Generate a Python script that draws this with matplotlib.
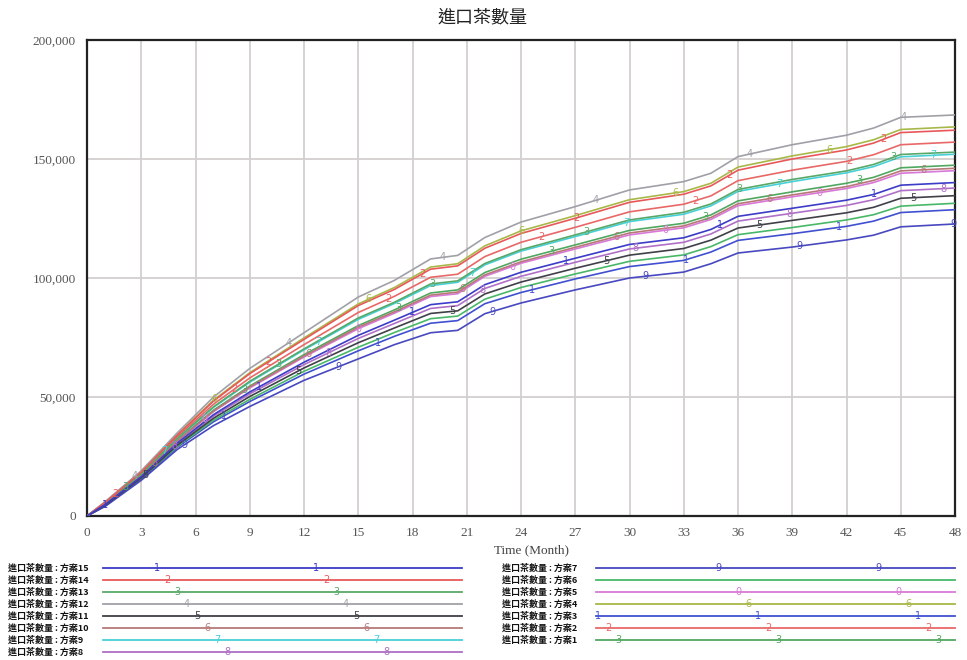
import matplotlib
matplotlib.use("Agg")
import matplotlib.pyplot as plt
import numpy as np

# months and values (thousands)
months = [0, 1, 3, 5, 7, 9, 12, 15, 17, 19, 20.5, 22, 24, 27, 30, 33, 34.5, 36, 39, 42, 43.5, 45, 48]

s15 = [0, 4.8, 16.5, 30.7, 42.6, 52.1, 64.6, 75.9, 82.3, 88.8, 90.0, 97.2, 102.4, 108.3, 114.1, 116.9, 120.4, 125.9, 129.3, 132.7, 135.1, 139.0, 140.1]
s14 = [0, 5.7, 18.4, 34.0, 48.3, 59.8, 74.2, 88.4, 95.2, 103.7, 105.1, 112.5, 118.7, 125.1, 131.8, 135.2, 138.7, 145.3, 150.0, 153.8, 156.7, 161.1, 162.1]
s13 = [0, 5.3, 17.6, 32.6, 45.9, 56.6, 70.2, 83.2, 89.8, 97.5, 98.8, 106.1, 111.9, 118.1, 124.4, 127.6, 131.1, 137.2, 141.4, 145.0, 147.7, 151.9, 152.9]
s12 = [0, 6.0, 19.0, 35.0, 50.0, 62.0, 77.0, 92.0, 99.0, 108.0, 109.5, 117.0, 123.5, 130.0, 137.0, 140.5, 144.0, 151.0, 156.0, 160.0, 163.0, 167.5, 168.5]
s11 = [0, 4.5, 16.0, 29.8, 41.1, 50.2, 62.2, 72.8, 79.0, 85.1, 86.2, 93.3, 98.3, 104.1, 109.6, 112.4, 115.9, 121.0, 124.2, 127.4, 129.7, 133.5, 134.6]
s10 = [0, 5.0, 17.0, 31.6, 44.1, 54.2, 67.2, 79.3, 85.8, 92.8, 94.1, 101.3, 106.8, 112.9, 118.9, 121.9, 125.4, 131.2, 134.9, 138.4, 141.0, 145.0, 146.1]
s9 = [0, 5.3, 17.6, 32.5, 45.7, 56.2, 69.8, 82.6, 89.3, 96.8, 98.2, 105.5, 111.3, 117.4, 123.7, 126.8, 130.3, 136.4, 140.5, 144.2, 146.8, 150.9, 152.0]
s8 = [0, 4.7, 16.3, 30.3, 42.0, 51.3, 63.6, 74.6, 80.9, 87.2, 88.4, 95.6, 100.7, 106.6, 112.2, 115.0, 118.5, 123.9, 127.2, 130.5, 132.9, 136.7, 137.8]
s7 = [0, 4.0, 15.0, 28.0, 38.0, 46.0, 57.0, 66.0, 72.0, 77.0, 78.0, 85.0, 89.5, 95.0, 100.0, 102.5, 106.0, 110.5, 113.0, 116.0, 118.0, 121.5, 122.7]
s6 = [0, 4.4, 15.8, 29.3, 40.3, 49.0, 60.8, 70.9, 77.1, 82.9, 84.0, 91.1, 96.0, 101.7, 107.0, 109.7, 113.2, 118.2, 121.2, 124.4, 126.6, 130.2, 131.4]
s5 = [0, 5.0, 17.0, 31.4, 43.9, 53.8, 66.8, 78.7, 85.2, 92.2, 93.4, 100.7, 106.2, 112.2, 118.1, 121.1, 124.6, 130.4, 134.1, 137.6, 140.1, 144.0, 145.1]
s4 = [0, 5.8, 18.6, 34.2, 48.7, 60.2, 74.8, 89.1, 96.0, 104.6, 106.0, 113.5, 119.8, 126.2, 132.9, 136.3, 139.8, 146.6, 151.3, 155.2, 158.1, 162.4, 163.5]
s3 = [0, 4.3, 15.5, 28.9, 39.6, 48.1, 59.6, 69.4, 75.5, 81.0, 82.1, 89.2, 93.9, 99.6, 104.8, 107.4, 110.9, 115.8, 118.6, 121.7, 123.9, 127.5, 128.7]
s2 = [0, 5.5, 18.0, 33.3, 47.0, 58.0, 72.0, 85.5, 92.3, 100.3, 101.6, 109.0, 115.0, 121.3, 127.8, 131.0, 134.5, 140.9, 145.3, 149.0, 151.8, 156.0, 157.1]
s1 = [0, 5.1, 17.2, 31.8, 44.5, 54.6, 67.8, 80.0, 86.6, 93.7, 95.0, 102.3, 107.9, 113.9, 120.0, 123.0, 126.5, 132.4, 136.2, 139.8, 142.3, 146.3, 147.4]

names = ["方案15", "方案14", "方案13", "方案12", "方案11", "方案10", "方案9", "方案8",
         "方案7", "方案6", "方案5", "方案4", "方案3", "方案2", "方案1"]
series = [s15, s14, s13, s12, s11, s10, s9, s8, s7, s6, s5, s4, s3, s2, s1]
marks = ["1", "2", "3", "4", "5", "6", "7", "8", "9", "", "0", "6", "1", "2", "3"]
colors = ["#3c3cc8", "#e8585a", "#58a868", "#a0a0a8", "#404048", "#b87878", "#48d0d8", "#b070c8",
          "#4848c0", "#48b868", "#d878d8", "#a8b848", "#4050d0", "#e86868", "#50a860"]

plt.rcParams['font.family'] = ['Liberation Serif', 'Noto Sans CJK TC']
cjk = ['Noto Sans CJK TC', 'DejaVu Sans']

fig = plt.figure(figsize=(9.67, 6.6), dpi=100)
ax = fig.add_axes([87/967, 1-516/660, 868/967, 476/660])

# draw last scenario first so 方案15 ends on top
for i in range(len(series)-1, -1, -1):
    y = np.array(series[i]) * 1000
    ax.plot(months, y, color=colors[i], lw=1.2, zorder=3)
    if marks[i]:
        for m in np.arange(1.0 + i*0.55, 48, 8.5):
            ax.text(m, np.interp(m, months, y), marks[i], color=colors[i], fontsize=7,
                    ha='center', va='center', zorder=4, family='DejaVu Sans')

ax.set_xlim(0, 48)
ax.set_ylim(0, 200000)
ax.set_xticks(range(0, 49, 3))
ax.set_yticks(range(0, 200001, 50000))
ax.set_yticklabels(["0", "50,000", "100,000", "150,000", "200,000"])
ax.grid(True, color='#d4cfcf', lw=1.3)
ax.set_axisbelow(True)
ax.tick_params(length=0, labelsize=9.5, labelcolor='#555555', pad=8)
for s in ax.spines.values():
    s.set_linewidth(1.6)
    s.set_color('#222222')

fig.text(532/967, 1-550/660, "Time (Month)", ha='center', va='center', fontsize=9.5, color='#444444')
fig.text(483/967, 1-17/660, "進口茶數量", ha='center', va='center', fontsize=13, family=cjk, color='#222222')

# legend area in pixel coordinates
lg = fig.add_axes([0, 0, 1, 1], facecolor='none')
lg.set_xlim(0, 967)
lg.set_ylim(660, 0)
lg.axis('off')
for i, name in enumerate(names):
    if i < 8:
        tx, x0, x1, yy = 8, 103, 462, 568 + i*12
        lx = [157 + i*10, 316 + i*10]
    else:
        j = i - 8
        tx, x0, x1, yy = 502, 596, 955, 568 + j*12
        if j < 4:
            lx = [718 + j*10, 878 + j*10]
        else:
            lx = [558 + j*10, 718 + j*10, 878 + j*10]
    lg.text(tx, yy, "進口茶數量 : " + name, fontsize=6.5, family=cjk, va='center', ha='left',
            color='#111111', fontweight='bold')
    lg.plot([x0, x1], [yy, yy], color=colors[i], lw=1.3)
    if marks[i]:
        for x in lx:
            lg.text(x, yy, marks[i], color=colors[i], fontsize=7, ha='center', va='center',
                    family='DejaVu Sans')

fig.savefig("out.png", dpi=100)
